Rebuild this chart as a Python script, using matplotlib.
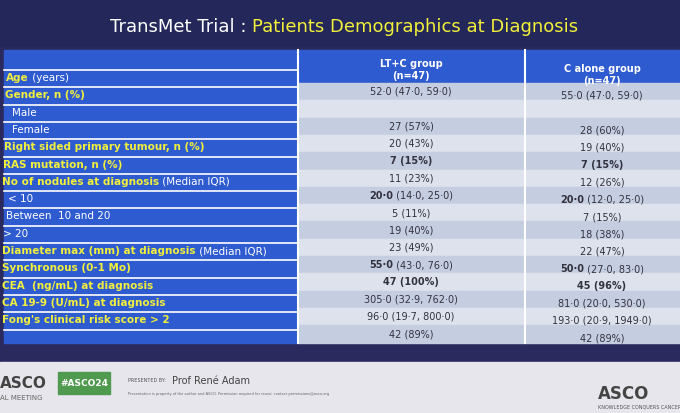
import matplotlib.pyplot as plt
from matplotlib.patches import Rectangle

# row labels, white suffixes, sub-item flags
labels = ["Age", "Gender, n (%)", "Male", "Female", "Right sided primary tumour, n (%)",
          "RAS mutation, n (%)", "No of nodules at diagnosis", "< 10", "Between  10 and 20",
          "> 20", "Diameter max (mm) at diagnosis", "Synchronous (0-1 Mo)",
          "CEA  (ng/mL) at diagnosis", "CA 19-9 (U/mL) at diagnosis",
          "Fong's clinical risk score > 2"]
suffixes = [" (years)", "", "", "", "", "", " (Median IQR)", "", "", "", " (Median IQR)",
            "", "", "", ""]
is_sub = [False, False, True, True, False, False, False, True, True, True, False, False,
          False, False, False]
label_x = [6, 5, 12, 12, 4, 3, 2, 8, 6, 3, 2, 2, 2, 2, 2]

# (bold head, normal tail)
ltc = [("", "52·0 (47·0, 59·0)"), ("", ""), ("", "27 (57%)"), ("", "20 (43%)"),
       ("7 (15%)", ""), ("", "11 (23%)"), ("20·0", " (14·0, 25·0)"), ("", "5 (11%)"),
       ("", "19 (40%)"), ("", "23 (49%)"), ("55·0", " (43·0, 76·0)"), ("47 (100%)", ""),
       ("", "305·0 (32·9, 762·0)"), ("", "96·0 (19·7, 800·0)"), ("", "42 (89%)")]
calone = [("", "55·0 (47·0, 59·0)"), ("", ""), ("", "28 (60%)"), ("", "19 (40%)"),
          ("7 (15%)", ""), ("", "12 (26%)"), ("20·0", " (12·0, 25·0)"), ("", "7 (15%)"),
          ("", "18 (38%)"), ("", "22 (47%)"), ("50·0", " (27·0, 83·0)"), ("45 (96%)", ""),
          ("", "81·0 (20·0, 530·0)"), ("", "193·0 (20·9, 1949·0)"), ("", "42 (89%)")]

fig = plt.figure(figsize=(6.8, 4.13), dpi=100)
ax = fig.add_axes([0, 0, 1, 1])
ax.set_xlim(0, 680)
ax.set_ylim(413, 0)
ax.axis('off')

ax.add_patch(Rectangle((0, 0), 680, 413, color='#2b2a5e'))
ax.add_patch(Rectangle((0, 0), 680, 46, color='#23275a'))
ax.text(252, 32, "TransMet Trial : ", color='white', fontsize=13, ha='right', va='baseline')
ax.text(252, 32, "Patients Demographics at Diagnosis", color='#f2f03a', fontsize=13,
        ha='left', va='baseline')

# table
top, row_h = 50, 17.3
n = len(labels)
bottom = 83 + n * row_h
ax.add_patch(Rectangle((4, top), 294, bottom - top, color='#2f5bd0'))
ax.add_patch(Rectangle((298, top), 382, 33, color='#2f5bd0'))
for i in range(n):
    y = 83 + i * row_h
    c = '#c5cde0' if i % 2 == 0 else '#dde2ec'
    ax.add_patch(Rectangle((298, y), 382, row_h, color=c))
for i in range(n + 1):
    y = 70 + i * row_h
    ax.plot([4, 298], [y, y], color='white', lw=1.2)
ax.plot([298, 298], [top, bottom], color='white', lw=1.5)
ax.plot([525, 525], [top, bottom], color='white', lw=1.5)

ax.text(411, 70, "LT+C group\n(n=47)", color='white', fontsize=7, ha='center', va='center',
        fontweight='bold')
ax.text(602, 75, "C alone group\n(n=47)", color='white', fontsize=7, ha='center', va='center',
        fontweight='bold')

fig.canvas.draw()
rend = fig.canvas.get_renderer()
for i, lab in enumerate(labels):
    y = 78 + i * row_h
    col = 'white' if is_sub[i] else '#f2f03a'
    t = ax.text(label_x[i], y, lab, color=col, fontsize=7.5, va='center',
                fontweight='normal' if is_sub[i] else 'bold')
    if suffixes[i]:
        bb = t.get_window_extent(renderer=rend)
        ax.text(label_x[i] + bb.width, y, suffixes[i], color='white', fontsize=7.5,
                va='center')


def cell(xc, y, parts):
    head, tail = parts
    kw = dict(color='#333340', fontsize=7, va='center')
    a = ax.text(0, y, head, fontweight='bold', **kw)
    b = ax.text(0, y, tail, **kw)
    wa = a.get_window_extent(renderer=rend).width if head else 0
    wb = b.get_window_extent(renderer=rend).width if tail else 0
    x0 = xc - (wa + wb) / 2
    a.set_x(x0)
    b.set_x(x0 + wa)


for i in range(n):
    y = 92 + i * row_h
    cell(411, y, ltc[i])
    cell(602, y + 4, calone[i])

# footer
ax.add_patch(Rectangle((0, 362), 680, 51, color='#e6e6ec'))
ax.text(0, 384, "ASCO", color='#444', fontsize=11, fontweight='bold', va='center')
ax.text(0, 398, "AL MEETING", color='#666', fontsize=5, va='center')
ax.add_patch(Rectangle((58, 372), 52, 22, color='#4f9a4e'))
ax.text(84, 383, "#ASCO24", color='white', fontsize=6.5, fontweight='bold', ha='center',
        va='center')
ax.text(128, 381, "PRESENTED BY:", color='#555', fontsize=3.5, va='center')
ax.text(172, 381, "Prof René Adam", color='#444', fontsize=7, va='center')
ax.text(128, 394, "Presentation is property of the author and ASCO. Permission required for reuse; contact permissions@asco.org",
        color='#666', fontsize=2.6, va='center')
ax.text(598, 394, "ASCO", color='#444', fontsize=12, fontweight='bold', va='center')
ax.text(598, 407, "KNOWLEDGE CONQUERS CANCER", color='#555', fontsize=3.5, va='center')

fig.savefig('out.png', dpi=100)
